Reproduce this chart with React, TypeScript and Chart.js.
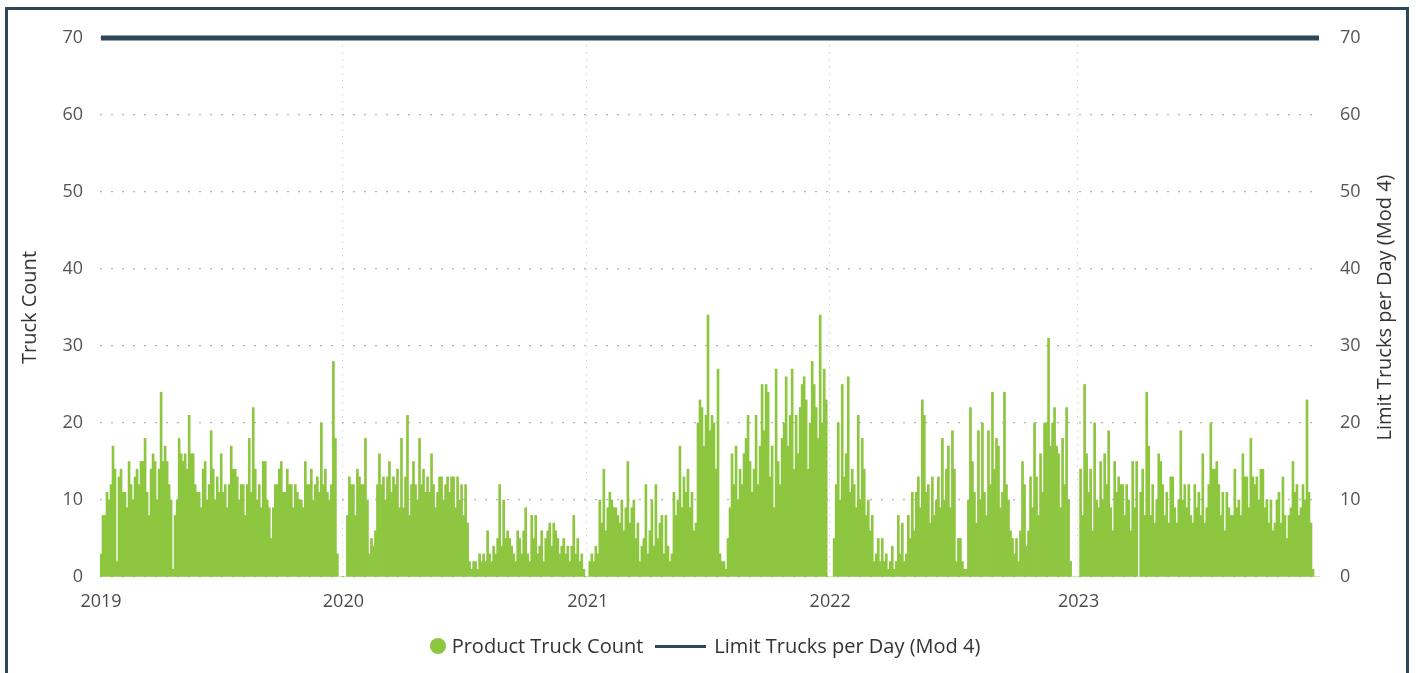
import React, { useEffect, useRef } from "react";
import { Chart, registerables } from "chart.js";

Chart.register(...registerables);

// ---- Data (~3-day bins) ----
const years = ["2019", "2020", "2021", "2022", "2023"];

const trucks2019 = [
  3, 8, 8, 11, 10, 12, 17, 14, 2, 13, 14, 11, 11, 9, 15, 12, 10, 13, 14, 12,
  15, 15, 18, 11, 8, 14, 16, 15, 10, 14, 24, 15, 17, 15, 12, 10, 1, 8, 10, 18,
  16, 15, 16, 14, 21, 16, 16, 12, 11, 11, 9, 14, 15, 10, 12, 19, 14, 10, 13, 11,
  16, 11, 12, 9, 12, 17, 14, 14, 13, 10, 12, 12, 8, 12, 18, 11, 22, 14, 10, 12,
  9, 15, 15, 10, 9, 5, 9, 12, 12, 14, 15, 11, 11, 14, 12, 12, 9, 12, 11, 10,
  10, 9, 15, 12, 12, 14, 10, 12, 13, 11, 20, 12, 14, 11, 10, 12, 28, 18, 3, 0,
  0,
];
const trucks2020 = [
  0, 0, 8, 13, 12, 12, 8, 14, 13, 12, 12, 18, 10, 3, 5, 4, 6, 12, 16, 12,
  13, 10, 13, 15, 11, 13, 12, 14, 9, 18, 9, 13, 21, 8, 12, 15, 12, 10, 18, 12,
  14, 11, 13, 11, 16, 12, 9, 11, 13, 13, 10, 12, 13, 11, 13, 13, 9, 13, 10, 12,
  8, 12, 7, 2, 1, 2, 2, 1, 3, 2, 3, 2, 6, 3, 2, 4, 3, 5, 12, 4,
  10, 5, 6, 5, 4, 3, 2, 6, 5, 3, 6, 9, 3, 2, 8, 5, 8, 3, 4, 6,
  2, 5, 6, 7, 4, 7, 6, 5, 3, 4, 5, 3, 4, 2, 4, 8, 3, 5, 2, 3,
  1, 0,
];
const trucks2021 = [
  0, 2, 3, 2, 4, 3, 10, 7, 14, 6, 9, 11, 10, 9, 9, 8, 7, 10, 6, 9,
  15, 7, 9, 10, 5, 7, 2, 4, 5, 12, 3, 6, 10, 4, 12, 5, 7, 8, 3, 8,
  4, 2, 3, 11, 8, 10, 17, 9, 13, 11, 14, 9, 11, 6, 7, 20, 23, 22, 17, 21,
  34, 19, 21, 20, 14, 27, 3, 2, 2, 1, 5, 9, 16, 12, 17, 10, 14, 12, 16, 18,
  21, 15, 11, 14, 21, 12, 17, 25, 19, 25, 24, 13, 17, 9, 27, 15, 12, 18, 20, 26,
  17, 21, 27, 14, 21, 16, 22, 25, 26, 23, 14, 20, 28, 25, 22, 18, 34, 20, 27, 23,
  0,
];
const trucks2022 = [
  0, 0, 5, 12, 20, 10, 25, 13, 16, 26, 11, 14, 12, 9, 21, 10, 18, 14, 8, 10,
  6, 8, 2, 3, 5, 2, 5, 2, 3, 1, 2, 4, 1, 2, 8, 3, 7, 2, 3, 8,
  5, 11, 6, 11, 13, 9, 23, 21, 11, 12, 7, 13, 8, 10, 13, 9, 18, 10, 14, 17,
  9, 19, 14, 2, 5, 5, 2, 1, 1, 10, 22, 15, 11, 7, 19, 10, 20, 11, 8, 19,
  12, 24, 14, 18, 17, 9, 11, 24, 12, 10, 6, 5, 3, 5, 2, 6, 15, 12, 4, 6,
  13, 9, 20, 13, 8, 16, 11, 20, 20, 31, 17, 20, 22, 17, 16, 9, 18, 12, 22, 10,
  2, 0, 0, 0,
];
const trucks2023 = [
  0, 14, 8, 25, 16, 11, 14, 6, 20, 10, 9, 15, 10, 16, 12, 19, 9, 6, 15, 11,
  13, 12, 12, 8, 12, 10, 6, 15, 9, 15, 0, 11, 14, 8, 24, 17, 8, 12, 7, 10,
  16, 15, 12, 8, 11, 7, 13, 13, 9, 7, 10, 19, 10, 12, 9, 12, 8, 7, 12, 9,
  11, 8, 16, 7, 9, 12, 20, 14, 14, 15, 12, 8, 11, 6, 11, 9, 8, 8, 14, 9,
  10, 8, 16, 13, 13, 9, 18, 13, 12, 13, 10, 14, 14, 9, 10, 7, 10, 6, 7, 10,
  11, 7, 13, 8, 5, 8, 9, 15, 11, 12, 8, 9, 12, 10, 23, 11, 7, 1, 0, 0,
  0,
];

const limitTrucksPerDay = 70;
const yMin = 0;
const yMax = 70;
const yStep = 10;

const seriesName = "Product Truck Count";
const limitName = "Limit Trucks per Day (Mod 4)";
const leftAxisTitle = "Truck Count";
const rightAxisTitle = "Limit Trucks per Day (Mod 4)";

const GREEN = "#8DC63F";
const SLATE = "#2E4756";
const FONT = '"Open Sans", sans-serif';

const yearSeries = [trucks2019, trucks2020, trucks2021, trucks2022, trucks2023];

export default function App() {
  const canvasRef = useRef<HTMLCanvasElement | null>(null);

  useEffect(() => {
    const labels: string[] = [];
    const values: number[] = [];
    const yearStarts: number[] = [];
    yearSeries.forEach((arr, yi) => {
      yearStarts.push(labels.length);
      arr.forEach((v, i) => {
        labels.push(i === 0 ? years[yi] : "");
        values.push(v);
      });
    });
    const limit = values.map(() => limitTrucksPerDay);

    const rightTitlePlugin = {
      id: "rightTitle",
      afterDraw(chart: any) {
        const { ctx, chartArea } = chart;
        const s = chart.scales.y1;
        ctx.save();
        ctx.translate(s.right - 31, (chartArea.top + chartArea.bottom) / 2);
        ctx.rotate(-Math.PI / 2);
        ctx.font = `20px ${FONT}`;
        ctx.fillStyle = "#333";
        ctx.textAlign = "center";
        ctx.textBaseline = "middle";
        ctx.fillText(rightAxisTitle, 0, 0);
        ctx.restore();
      },
    };

    const chart = new Chart(canvasRef.current as HTMLCanvasElement, {
      type: "bar",
      data: {
        labels,
        datasets: [
          {
            type: "line",
            label: limitName,
            data: limit,
            borderColor: SLATE,
            borderWidth: 5,
            pointRadius: 0,
            yAxisID: "y1",
            clip: false,
            order: 0,
          } as any,
          {
            type: "bar",
            label: seriesName,
            data: values,
            backgroundColor: GREEN,
            borderWidth: 0,
            barPercentage: 1,
            categoryPercentage: 1,
            yAxisID: "y",
            order: 1,
          },
        ],
      },
      options: {
        animation: false,
        responsive: false,
        maintainAspectRatio: false,
        layout: { padding: { top: 38, bottom: 56, left: 0, right: 0 } },
        plugins: {
          legend: { display: false },
          tooltip: { enabled: false },
        },
        scales: {
          x: {
            type: "category",
            offset: true,
            afterFit: (scale: any) => {
              scale.height = 40;
            },
            border: { display: false, dash: [1.5, 5.5] },
            grid: {
              offset: true,
              drawTicks: false,
              color: (ctx: any) =>
                yearStarts.indexOf(ctx.index) > 0 ? "#d4d4d4" : "rgba(0,0,0,0)",
              lineWidth: 1,
            },
            ticks: {
              autoSkip: false,
              maxRotation: 0,
              minRotation: 0,
              padding: 14,
              color: "#4a4a4a",
              font: { family: FONT, size: 18 },
              callback: (_v: any, i: number) => labels[i],
            },
          },
          y: {
            position: "left",
            min: yMin,
            max: yMax,
            afterFit: (scale: any) => {
              scale.width = 100;
            },
            border: { display: false, dash: [2, 9] },
            grid: { drawTicks: false, color: "#b4b4b4", lineWidth: 1.2 },
            ticks: {
              stepSize: yStep,
              padding: 17,
              color: "#555",
              font: { family: FONT, size: 18 },
            },
            title: {
              display: true,
              text: leftAxisTitle,
              color: "#333",
              font: { family: FONT, size: 20 },
              padding: { top: 18, bottom: 0 },
            },
          },
          y1: {
            position: "right",
            min: yMin,
            max: yMax,
            afterFit: (scale: any) => {
              scale.width = 96;
            },
            border: { display: false },
            grid: { display: false, drawTicks: false },
            ticks: {
              stepSize: yStep,
              padding: 20,
              color: "#555",
              font: { family: FONT, size: 18 },
            },
          },
        },
      },
      plugins: [rightTitlePlugin],
    });

    return () => chart.destroy();
  }, []);

  return (
    <div
      style={{
        position: "absolute",
        left: 0,
        top: 0,
        width: 1416,
        height: 673,
        overflow: "hidden",
        background: "#fff",
        fontFamily: FONT,
      }}
    >
      <div
        style={{
          position: "absolute",
          left: 5,
          top: 7,
          width: 1398,
          height: 700,
          border: `3px solid ${SLATE}`,
          borderBottom: "none",
        }}
      />
      <canvas
        ref={canvasRef}
        width={1416}
        height={673}
        style={{ position: "absolute", left: 0, top: 0, width: 1416, height: 673 }}
      />
      <div
        style={{
          position: "absolute",
          left: 0,
          top: 634,
          width: 1410,
          height: 24,
          display: "flex",
          justifyContent: "center",
          alignItems: "center",
          fontSize: 20,
          lineHeight: "24px",
          color: "#333",
          whiteSpace: "nowrap",
        }}
      >
        <span
          style={{
            display: "inline-block",
            width: 16,
            height: 16,
            borderRadius: 8,
            background: GREEN,
            marginRight: 6,
          }}
        />
        <span>{seriesName}</span>
        <span
          style={{
            display: "inline-block",
            width: 51,
            height: 3,
            background: SLATE,
            marginLeft: 12,
            marginRight: 8,
          }}
        />
        <span>{limitName}</span>
      </div>
    </div>
  );
}
